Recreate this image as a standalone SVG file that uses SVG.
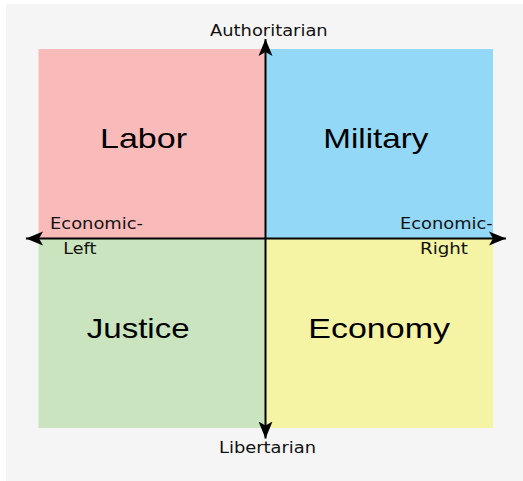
<svg xmlns="http://www.w3.org/2000/svg" width="523" height="481" viewBox="0 0 523 481">
  <defs>
    <marker id="arrow" markerUnits="userSpaceOnUse" markerWidth="18" markerHeight="16" viewBox="-17 -8 18 16" refX="0" refY="0" orient="auto">
      <path d="M0,0 L-17,-7 L-13,0 L-17,7 Z" fill="#000"/>
    </marker>
  </defs>
  <style>
    .big { font-family: "Liberation Sans", Arial, sans-serif; font-size: 28px; fill: #000; }
    .small { font-family: "DejaVu Sans", sans-serif; font-size: 16.5px; fill: #111; }
    .axis { stroke: #000; stroke-width: 2; fill: none; }
  </style>
  <rect x="6" y="4" width="517" height="477" fill="#f5f5f5"/>
  <g id="labor">
    <rect x="38.5" y="49" width="227" height="189.5" fill="#f9baba"/>
    <text class="big" x="100" y="148.3" textLength="87" lengthAdjust="spacingAndGlyphs">Labor</text>
  </g>
  <g id="military">
    <rect x="265.5" y="49" width="227.5" height="189.5" fill="#93d8f6"/>
    <text class="big" x="323.3" y="148.3" textLength="105" lengthAdjust="spacingAndGlyphs">Military</text>
  </g>
  <g id="justice">
    <rect x="38.5" y="238.5" width="227" height="189.5" fill="#c9e4be"/>
    <text class="big" x="86.7" y="337.7" textLength="103" lengthAdjust="spacingAndGlyphs">Justice</text>
  </g>
  <g id="economy">
    <rect x="265.5" y="238.5" width="227.5" height="189.5" fill="#f4f4a4"/>
    <text class="big" x="308.3" y="337.7" textLength="141.7" lengthAdjust="spacingAndGlyphs">Economy</text>
  </g>
  <g id="connectors">
    <line class="axis" x1="265.5" y1="238.5" x2="265.5" y2="39" marker-end="url(#arrow)"/>
    <line class="axis" x1="265.5" y1="238.5" x2="265.5" y2="438.5" marker-end="url(#arrow)"/>
    <line class="axis" x1="265.5" y1="238.5" x2="26" y2="238.5" marker-end="url(#arrow)"/>
    <line class="axis" x1="265.5" y1="238.5" x2="506" y2="238.5" marker-end="url(#arrow)"/>
  </g>
  <g id="labels">
    <text class="small" x="210" y="36.3" textLength="117.7" lengthAdjust="spacingAndGlyphs">Authoritarian</text>
    <text class="small" x="219" y="452.7" textLength="97" lengthAdjust="spacingAndGlyphs">Libertarian</text>
    <text class="small" x="50" y="228.7" textLength="93" lengthAdjust="spacingAndGlyphs">Economic-</text>
    <text class="small" x="63.3" y="254" textLength="33" lengthAdjust="spacingAndGlyphs">Left</text>
    <text class="small" x="400" y="228.7" textLength="92.7" lengthAdjust="spacingAndGlyphs">Economic-</text>
    <text class="small" x="420" y="254" textLength="48" lengthAdjust="spacingAndGlyphs">Right</text>
  </g>
</svg>
